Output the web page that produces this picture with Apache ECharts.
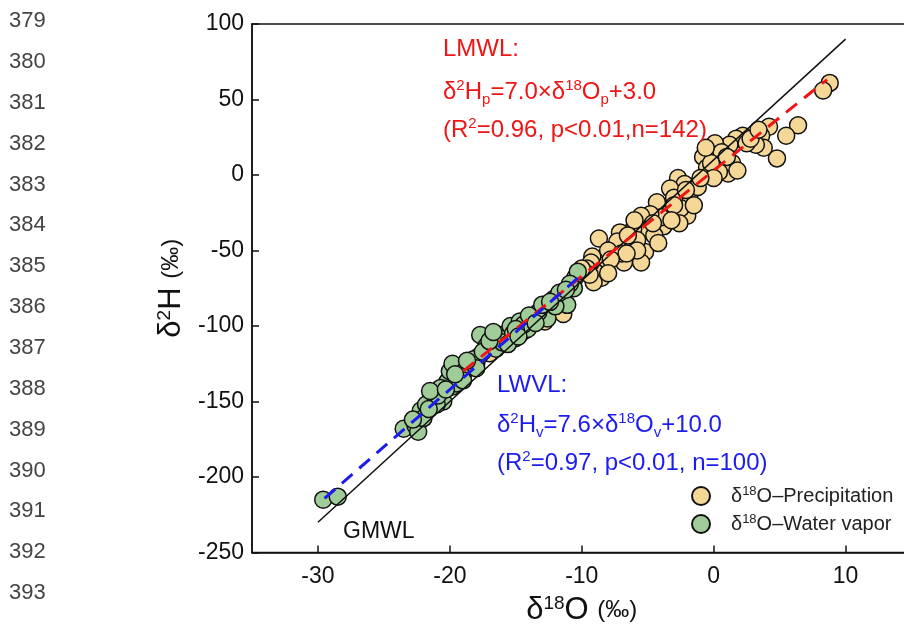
<!DOCTYPE html>
<html>
<head>
<meta charset="utf-8">
<script src="https://cdn.jsdelivr.net/npm/echarts@6/dist/echarts.min.js"></script>
<style>
html, body { margin: 0; padding: 0; background: #fff; overflow: hidden; }
#main { width: 912px; height: 631px; }
</style>
</head>
<body>
<div id="main"></div>
<script>
// precipitation samples [d18O, d2H]
var precipitation = [
    [8.8, 61], [8.3, 56], [6.4, 33], [5.5, 26], [4.8, 11], [4.2, 32], [3.6, 26], [3.8, 18],
    [3.2, 20], [2.2, 26], [1.7, 24], [1.2, 20], [0.3, 17], [-0.1, 12], [0.5, 10], [0.8, 5],
    [1.1, 1], [1.4, 8], [0.1, 21], [-0.4, 15], [-0.8, 12], [-0.5, 5], [0.4, 2], [1.8, 3],
    [0.6, 15], [2.5, 21], [-0.2, 8], [1.0, 12], [2.8, 24], [3.4, 30], [-0.6, 18], [0.0, -2],
    [-2.7, -2], [-2.2, -6], [-2.9, -13], [-1.8, -12], [-2.3, -18], [-3.3, -9], [-3.5, -25],
    [-4.3, -18], [-3.8, -34], [-2.0, -27], [-2.5, -22], [-1.5, -20], [-3.0, -15], [-4.0, -28],
    [-4.8, -26], [-2.6, -32], [-1.2, -8], [-3.0, -20], [-2.1, -10], [-1.0, -2], [-3.2, -30],
    [-5.5, -27], [-5.0, -36], [-5.2, -51], [-6.1, -36], [-6.3, -47], [-7.1, -38], [-7.6, -49],
    [-8.3, -60], [-8.7, -42], [-9.2, -54], [-5.8, -43], [-4.5, -40], [-6.8, -58], [-7.3, -44],
    [-8.0, -50], [-6.0, -30], [-4.2, -45], [-7.0, -52], [-5.5, -58], [-6.5, -40], [-4.6, -32],
    [-5.8, -50], [-6.6, -52], [-7.8, -56],
    [-8.8, -66], [-8.5, -68], [-9.0, -64], [-9.3, -58], [-8.0, -65], [-9.6, -62], [-9.1, -71],
    [-9.4, -66], [-10.0, -62],
    [-10.5, -68], [-11.5, -78], [-12.3, -85], [-13.0, -93], [-14.0, -98], [-15.0, -108],
    [-16.0, -112], [-17.0, -118], [-18.0, -125], [-12.8, -97], [-11.4, -92], [-14.5, -104],
    [-10.8, -74]
];
// water vapor samples [d18O, d2H]
var vapor = [
    [-29.6, -215], [-28.5, -213],
    [-23.5, -168], [-22.6, -166], [-22.4, -170], [-22.2, -156], [-22.0, -161], [-21.3, -147],
    [-20.7, -144], [-20.5, -150], [-19.8, -140], [-21.8, -152], [-20.2, -137], [-21.0, -152],
    [-22.8, -162], [-21.6, -155],
    [-20.7, -141], [-20.0, -130], [-19.8, -125], [-19.2, -133], [-18.5, -126], [-17.8, -120],
    [-17.7, -106], [-17.2, -113], [-16.8, -108], [-16.2, -106], [-15.8, -108], [-15.4, -100],
    [-14.7, -97], [-14.1, -102], [-13.7, -95], [-12.9, -88], [-12.6, -95], [-12.1, -82],
    [-11.4, -80], [-10.6, -75], [-10.3, -64], [-11.1, -86],
    [-19.5, -138], [-18.9, -130], [-18.2, -122], [-17.5, -117], [-16.5, -115], [-16.0, -111],
    [-15.2, -105], [-14.4, -99], [-13.3, -91], [-13.0, -86], [-12.0, -87], [-11.7, -78],
    [-10.9, -72], [-18.0, -128], [-19.0, -136], [-20.9, -146], [-21.5, -143], [-17.0, -110],
    [-15.0, -102], [-14.0, -93], [-13.5, -98], [-20.3, -142], [-19.6, -132], [-18.7, -123],
    [-16.7, -104], [-12.4, -84], [-11.2, -76], [-15.6, -112], [-14.8, -107]
];
var gmwl = [[-30, -230], [10, 90]];
var lmwl = [[-19, -130], [8.6, 63.2]];
var lwvl = [[-29.5, -214.2], [-10.3, -68.3]];
var xTicks = [-30, -20, -10, 0, 10];
var lineNumbers = [379, 380, 381, 382, 383, 384, 385, 386, 387, 388, 389, 390, 391, 392, 393];

var font = 'Liberation Sans, Arial, sans-serif';
var red = '#f01515';
var blue = '#1c1cee';

function richText(color, size) {
    return {
        a: { fontSize: size, fontFamily: font, fill: color, lineHeight: 30, verticalAlign: 'middle' },
        sup: { fontSize: 15, fontFamily: font, fill: color, lineHeight: 30, verticalAlign: 'top', padding: [1, 0, 0, 0] },
        sub: { fontSize: 15, fontFamily: font, fill: color, lineHeight: 30, verticalAlign: 'bottom', padding: [0, 0, 0, 0] }
    };
}

var graphics = lineNumbers.map(function (n, i) {
    return {
        type: 'text',
        left: 9,
        top: 10 + i * 40.86,
        style: { text: String(n), fontSize: 22, fontFamily: font, fill: '#444' }
    };
});

graphics.push(
    { type: 'text', left: 443, top: 37, z: 100,
      style: { text: '{a|LMWL:}', rich: richText(red, 24) } },
    { type: 'text', left: 443, top: 77, z: 100,
      style: { text: '{a|δ}{sup|2}{a|H}{sub|p}{a|=7.0×δ}{sup|18}{a|O}{sub|p}{a|+3.0}', rich: richText(red, 24) } },
    { type: 'text', left: 443, top: 115, z: 100,
      style: { text: '{a|(R}{sup|2}{a|=0.96, p<0.01,n=142)}', rich: richText(red, 24) } },
    { type: 'text', left: 497, top: 373, z: 100,
      style: { text: '{a|LWVL:}', rich: richText(blue, 24) } },
    { type: 'text', left: 497, top: 410, z: 100,
      style: { text: '{a|δ}{sup|2}{a|H}{sub|v}{a|=7.6×δ}{sup|18}{a|O}{sub|v}{a|+10.0}', rich: richText(blue, 24) } },
    { type: 'text', left: 497, top: 448, z: 100,
      style: { text: '{a|(R}{sup|2}{a|=0.97, p<0.01, n=100)}', rich: richText(blue, 24) } },
    { type: 'text', left: 343, top: 520, z: 100,
      style: { text: 'GMWL', fontSize: 23, fontFamily: font, fill: '#111' } }
);

var legendNames = {
    'δ18O–Precipitation': '{g| }{t|δ}{s|18}{t|O–Precipitation}',
    'δ18O–Water vapor': '{g| }{t|δ}{s|18}{t|O–Water vapor}'
};

var option = {
    animation: false,
    backgroundColor: '#fff',
    grid: {
        left: 252,
        top: 24,
        right: 0.5,
        bottom: 76,
        show: true,
        borderColor: '#111',
        borderWidth: 1.5,
        backgroundColor: 'transparent'
    },
    legend: {
        orient: 'vertical',
        left: 686,
        top: 480,
        itemWidth: 18,
        itemHeight: 18,
        itemGap: 7,
        data: [
            { name: 'δ18O–Precipitation', icon: 'circle' },
            { name: 'δ18O–Water vapor', icon: 'circle' }
        ],
        formatter: function (name) { return legendNames[name]; },
        textStyle: {
            fontFamily: font,
            color: '#222',
            rich: {
                g: { width: 16 },
                t: { fontSize: 20, fontFamily: font, color: '#222' },
                s: { fontSize: 13, fontFamily: font, color: '#222', verticalAlign: 'top', lineHeight: 22 }
            }
        }
    },
    xAxis: {
        type: 'value',
        min: -35,
        max: 15,
        name: '{a|δ}{s|18}{a|O }{b|(‰)}',
        nameLocation: 'middle',
        nameGap: 42,
        nameTextStyle: {
            rich: {
                a: { fontSize: 31, fontFamily: font, color: '#111' },
                s: { fontSize: 19, fontFamily: font, color: '#111', verticalAlign: 'top', lineHeight: 32 },
                b: { fontSize: 24, fontFamily: font, color: '#111' }
            }
        },
        splitLine: { show: false },
        axisLine: { show: true, onZero: false, lineStyle: { color: '#111', width: 1.5 } },
        axisTick: { show: true, inside: true, length: 7, customValues: xTicks, lineStyle: { color: '#111', width: 1.5 } },
        axisLabel: { customValues: xTicks, fontSize: 23, fontFamily: font, color: '#111', margin: 13 }
    },
    yAxis: {
        type: 'value',
        min: -250,
        max: 100,
        interval: 50,
        name: '{a|δ}{s|2}{a|H }{b|(‰)}',
        nameLocation: 'middle',
        nameGap: 60,
        nameTextStyle: {
            rich: {
                a: { fontSize: 31, fontFamily: font, color: '#111' },
                s: { fontSize: 19, fontFamily: font, color: '#111', verticalAlign: 'top', lineHeight: 32 },
                b: { fontSize: 24, fontFamily: font, color: '#111' }
            }
        },
        splitLine: { show: false },
        axisLine: { show: true, onZero: false, lineStyle: { color: '#111', width: 1.5 } },
        axisTick: { show: true, inside: true, length: 7, lineStyle: { color: '#111', width: 1.5 } },
        axisLabel: { fontSize: 23, fontFamily: font, color: '#111', margin: 8 }
    },
    graphic: graphics,
    series: [
        {
            name: 'δ18O–Precipitation',
            type: 'scatter',
            data: precipitation,
            symbolSize: 17,
            z: 2,
            itemStyle: { color: '#f5d898', borderColor: '#111', borderWidth: 1.5, opacity: 1 }
        },
        {
            name: 'δ18O–Water vapor',
            type: 'scatter',
            data: vapor,
            symbolSize: 17,
            z: 3,
            itemStyle: { color: '#a0cc98', borderColor: '#111', borderWidth: 1.5, opacity: 1 }
        },
        {
            name: 'GMWL',
            type: 'line',
            data: gmwl,
            symbol: 'none',
            z: 4,
            lineStyle: { color: '#111', width: 1.5 }
        },
        {
            name: 'LMWL',
            type: 'line',
            data: lmwl,
            symbol: 'none',
            z: 5,
            lineStyle: { color: red, width: 3, type: [14, 9] }
        },
        {
            name: 'LWVL',
            type: 'line',
            data: lwvl,
            symbol: 'none',
            z: 6,
            lineStyle: { color: blue, width: 3, type: [14, 9] }
        }
    ]
};

var myChart = echarts.init(document.getElementById('main'));
myChart.setOption(option);
</script>
</body>
</html>
